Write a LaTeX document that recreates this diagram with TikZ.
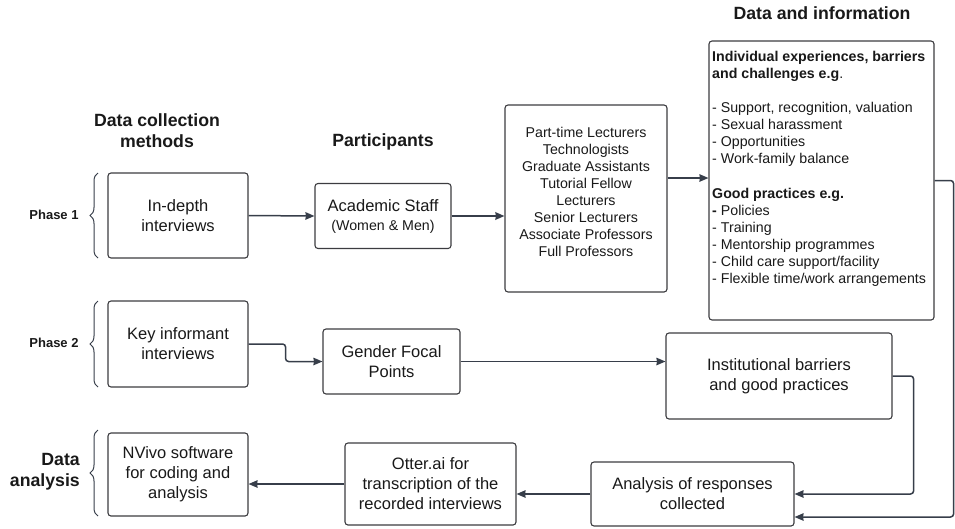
\documentclass[tikz,border=0pt]{standalone}
\usepackage{fontspec}
\setmainfont{Liberation Sans}
\usetikzlibrary{arrows.meta,calc,decorations.pathreplacing}
\definecolor{lc}{RGB}{55,62,74}
\definecolor{bc}{RGB}{60,60,64}
\definecolor{tc}{RGB}{25,25,25}
\tikzset{
  box/.style={draw=bc, line width=1.1pt, rounded corners=3pt, fill=white, align=center,
    inner sep=0pt, text=tc, font=\fontsize{16.5}{20}\selectfont},
  conn/.style={draw=lc, line width=1.5pt, -{Stealth[length=9pt,width=7.5pt,inset=0.5pt]}},
  hdr/.style={font=\fontsize{17.7}{21}\selectfont\bfseries, text=tc, align=center, inner sep=0pt},
  phase/.style={font=\fontsize{13}{15}\selectfont\bfseries, text=tc, inner sep=0pt},
  brc/.style={draw=lc, line width=1pt, decorate, decoration={brace, amplitude=8pt}},
}
\begin{document}
\begin{tikzpicture}[x=1pt,y=-1pt]
\useasboundingbox (0,0) rectangle (955,528);
% headers
\node[hdr] (h1) at (157,131) {Data collection\\methods};
\node[hdr] (h2) at (383,142) {Participants};
\node[hdr] (h3) at (822,13) {Data and information};
% phase labels
\node[phase] (p1) at (54,215) {Phase 1};
\node[phase] (p2) at (54,343) {Phase 2};
\node[hdr, align=right, anchor=east] (p3) at (80,472) {Data\\analysis};
% braces
\draw[brc] (98,258) -- (98,173);
\draw[brc] (98,387) -- (98,301);
\draw[brc] (98,516) -- (98,430);
% boxes
\node[box, minimum width=140, minimum height=85] (indepth) at (178,215.5) {In-depth\\interviews};
\node[box, minimum width=136, minimum height=65] (acad) at (383,216) {Academic Staff\\[-1pt]{\fontsize{14.2}{18}\selectfont (Women \& Men)}};
\node[box, minimum width=162, minimum height=187] (pbox) at (586,198.5) {};
\node[align=center, inner sep=0pt, text=tc, font=\fontsize{14.2}{17.1}\selectfont] (plist) at (586,192)
  {Part-time Lecturers\\Technologists\\Graduate Assistants\\Tutorial Fellow\\Lecturers\\Senior Lecturers\\Associate Professors\\Full Professors};
\node[box, minimum width=225, minimum height=279] (info) at (821.5,180.5) {};
\node[align=left, anchor=north west, inner sep=0pt, text=tc, font=\fontsize{14.2}{17.08}\selectfont] (infotext) at (712,51)
  {\textbf{Individual experiences, barriers}\\\textbf{and challenges e.g}.\\[17.08pt]
   - Support, recognition, valuation\\- Sexual harassment\\- Opportunities\\- Work-family balance\\[17.08pt]
   \textbf{Good practices e.g.}\\\textbf{-} Policies\\- Training\\- Mentorship programmes\\- Child care support/facility\\- Flexible time/work arrangements};
\node[box, minimum width=140, minimum height=86] (key) at (178,344) {Key informant\\interviews};
\node[box, minimum width=137, minimum height=65] (gender) at (391.5,361.5) {Gender Focal\\Points};
\node[box, minimum width=226, minimum height=86] (inst) at (779,376) {Institutional barriers\\and good practices};
\node[box, minimum width=140, minimum height=83] (nvivo) at (178,474.5) {NVivo software\\for coding and\\analysis};
\node[box, minimum width=171, minimum height=82] (otter) at (430.5,484) {Otter.ai for\\transcription of the\\recorded interviews};
\node[box, minimum width=203, minimum height=64] (anal) at (692.5,494) {Analysis of responses\\collected};
% connectors
\coordinate (r178) at (0,178);
\draw[conn] (indepth.east) -- (acad.west);
\draw[conn, line width=1.9pt] (acad.east) -- (acad.east -| pbox.west);
\draw[conn] (pbox.east |- r178) -- (info.west |- r178);
\draw[conn, rounded corners=3pt] (key.east) -- ++(37,0) |- (gender.west);
\draw[conn] (gender.east) -- (gender.east -| inst.west);
\draw[conn, rounded corners=3pt] (inst.east) -- ++(21,0) |- (anal.east);
\draw[conn, rounded corners=3pt] (info.east) -- ++(19,0) |- ($(anal.east)+(0,23)$);
\draw[conn] (anal.west) -- (anal.west -| otter.east);
\draw[conn] (otter.west) -- (otter.west -| nvivo.east);
\end{tikzpicture}
\end{document}
